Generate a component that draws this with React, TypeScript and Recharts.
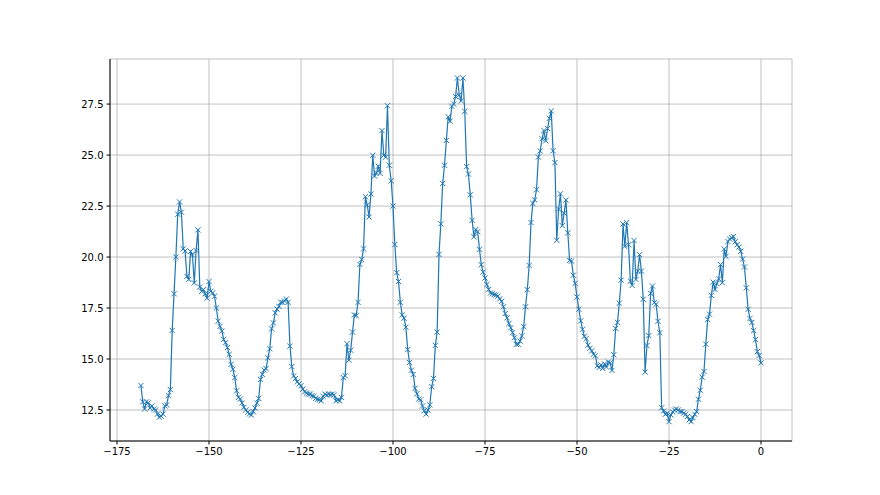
import { LineChart, Line, XAxis, YAxis, CartesianGrid } from 'recharts';

// sampled every 0.5 units from -168.5 up to 0
const X_START = -168.5;
const X_STEP = 0.5;

const firstBump = [13.7, 12.9, 12.55, 12.9, 12.85, 12.6, 12.7, 12.55, 12.5, 12.3, 12.15, 12.2, 12.3, 12.7, 12.75, 13.2, 13.5, 16.4, 18.2, 20.0, 22.1, 22.7, 22.2, 20.4, 20.3, 19.05];
const firstFall = [18.9, 20.27, 20.1, 18.73, 20.32, 21.33, 18.53, 18.32, 18.4, 18.2, 17.99, 18.8, 18.32, 18.24, 18.08, 17.5, 16.86, 16.6, 16.37, 15.96, 15.8, 15.56, 15.23, 14.74, 14.5, 14.09, 13.44, 13.12];
const smallBump = [13.04, 12.84, 12.63, 12.5, 12.39, 12.31, 12.25, 12.42, 12.6, 12.84, 13.07, 14.0, 14.25, 14.46, 14.53, 15.06, 15.5, 16.48, 16.77, 17.26, 17.45, 17.58, 17.78, 17.78, 17.85, 17.94, 17.78, 15.63, 14.63];
const flatStretch = [14.17, 14.04, 13.88, 13.78, 13.69, 13.52, 13.39, 13.33, 13.28, 13.28, 13.2, 13.17, 13.07, 13.03, 13.0, 12.95, 13.17, 13.28, 13.23, 13.28, 13.25, 13.28, 13.23, 12.95, 13.0, 12.95, 13.12, 14.09];
const secondRise = [14.18, 15.75, 14.94, 15.43, 16.32, 17.16, 17.13, 17.78, 19.64, 19.88, 20.4, 22.96, 22.55, 21.96, 23.09, 24.99, 23.97, 24.13, 24.45, 24.1, 26.2, 24.99, 24.9, 27.42, 24.5, 23.74, 22.5, 20.61, 19.23];
const secondFall = [18.8, 17.78, 17.16, 17.0, 16.56, 15.46, 14.83, 14.45, 14.24, 13.56, 13.3, 13.04, 13.0, 12.7, 12.46, 12.3, 12.5, 12.75, 13.64, 14.05, 15.67, 16.32, 20.13, 21.63, 23.61, 24.5, 25.72, 26.88];
const topPeak = [26.66, 27.39, 27.5, 27.87, 28.78, 27.95, 27.66, 28.78, 27.14, 24.43, 24.07, 23.05, 21.8, 20.99, 21.35, 21.24, 20.38, 19.62, 19.26, 18.97, 18.65, 18.41, 18.24, 18.2, 18.16, 18.13, 18.08, 17.95];
const valleyRise = [17.83, 17.56, 17.23, 17.02, 16.74, 16.53, 16.29, 16.04, 15.72, 15.72, 15.88, 16.13, 16.58, 17.56, 18.4, 19.59, 21.69, 22.63, 22.8, 23.3, 24.9, 25.2, 25.8, 26.2, 25.7, 26.3, 26.8, 27.16];
const thirdFall = [25.21, 24.63, 20.82, 22.35, 23.1, 21.54, 22.15, 22.8, 21.18, 19.83, 19.8, 19.11, 18.71, 18.04, 17.44, 16.87, 16.46, 16.11, 16.0, 15.68, 15.52, 15.4, 15.24, 15.16, 14.67, 14.59, 14.71, 14.54];
const spikyBump = [14.76, 14.61, 14.85, 14.82, 14.44, 15.21, 16.5, 16.8, 17.74, 18.87, 21.62, 20.52, 21.69, 20.6, 18.82, 18.61, 20.81, 18.9, 19.31, 20.12, 19.31, 17.93, 14.36, 15.66, 16.15, 18.22, 18.58, 17.77, 17.69];
const lowFloor = [16.85, 16.29, 12.61, 12.45, 12.29, 12.34, 11.93, 12.26, 12.4, 12.5, 12.55, 12.5, 12.42, 12.42, 12.35, 12.29, 12.18, 12.02, 11.93, 12.13, 12.29, 12.42, 13.03, 13.47, 14.11, 14.39, 15.73, 16.94];
const lastBump = [17.2, 18.12, 18.77, 18.41, 18.7, 18.93, 19.63, 18.74, 20.39, 20.03, 20.76, 20.88, 20.95, 21.0, 20.75, 20.6, 20.49, 20.28, 19.9, 19.51, 18.49, 17.44, 16.99, 16.79, 16.39, 15.95, 15.36, 15.17, 14.81];

const xTicks = [-175, -150, -125, -100, -75, -50, -25, 0];
const yTicks = [12.5, 15.0, 17.5, 20.0, 22.5, 25.0, 27.5];

const values = [
  ...firstBump, ...firstFall, ...smallBump, ...flatStretch, ...secondRise, ...secondFall,
  ...topPeak, ...valleyRise, ...thirdFall, ...spikyBump, ...lowFloor, ...lastBump,
];
const data = values.map((y, i) => ({ x: X_START + i * X_STEP, y }));

const BLUE = '#1f77b4';
const FONT = 'DejaVu Sans, sans-serif';

const XMark = (props: any) => {
  const { cx, cy, index } = props;
  if (cx == null || cy == null) return <g key={`m-${index}`} />;
  const r = 2.6;
  return (
    <path
      key={`m-${index}`}
      d={`M${cx - r},${cy - r}L${cx + r},${cy + r}M${cx - r},${cy + r}L${cx + r},${cy - r}`}
      stroke={BLUE}
      strokeWidth={1}
      fill="none"
    />
  );
};

const fmtX = (v: number) => (v < 0 ? `\u2212${Math.abs(v)}` : String(v));

export default function App() {
  return (
    <div style={{ position: 'absolute', left: 0, top: 0, background: '#fff' }}>
      <LineChart width={880} height={495} data={data} margin={{ top: 59, right: 88, left: 50, bottom: 24 }}>
        <CartesianGrid stroke="#b0b0b0" strokeWidth={0.8} />
        <XAxis
          dataKey="x"
          type="number"
          domain={[-176.9, 8.42]}
          ticks={xTicks}
          allowDataOverflow
          tickFormatter={fmtX}
          height={30}
          tickSize={3.5}
          tickMargin={3}
          axisLine={{ stroke: '#000' }}
          tickLine={{ stroke: '#000' }}
          tick={{ fill: '#000', fontSize: 10, fontFamily: FONT }}
        />
        <XAxis
          xAxisId="top"
          orientation="top"
          dataKey="x"
          type="number"
          domain={[-176.9, 8.42]}
          height={0}
          tick={false}
          tickLine={false}
          axisLine={{ stroke: '#000' }}
        />
        <YAxis
          type="number"
          domain={[10.98, 29.71]}
          ticks={yTicks}
          allowDataOverflow
          tickFormatter={(v: number) => v.toFixed(1)}
          width={60}
          tickSize={3.5}
          tickMargin={3}
          axisLine={{ stroke: '#000' }}
          tickLine={{ stroke: '#000' }}
          tick={{ fill: '#000', fontSize: 10, fontFamily: FONT }}
        />
        <YAxis
          yAxisId="right"
          orientation="right"
          type="number"
          domain={[10.98, 29.71]}
          width={0}
          tick={false}
          tickLine={false}
          axisLine={{ stroke: '#000' }}
        />
        <Line
          type="linear"
          dataKey="y"
          stroke={BLUE}
          strokeWidth={1.2}
          dot={XMark}
          activeDot={false}
          isAnimationActive={false}
        />
      </LineChart>
    </div>
  );
}
